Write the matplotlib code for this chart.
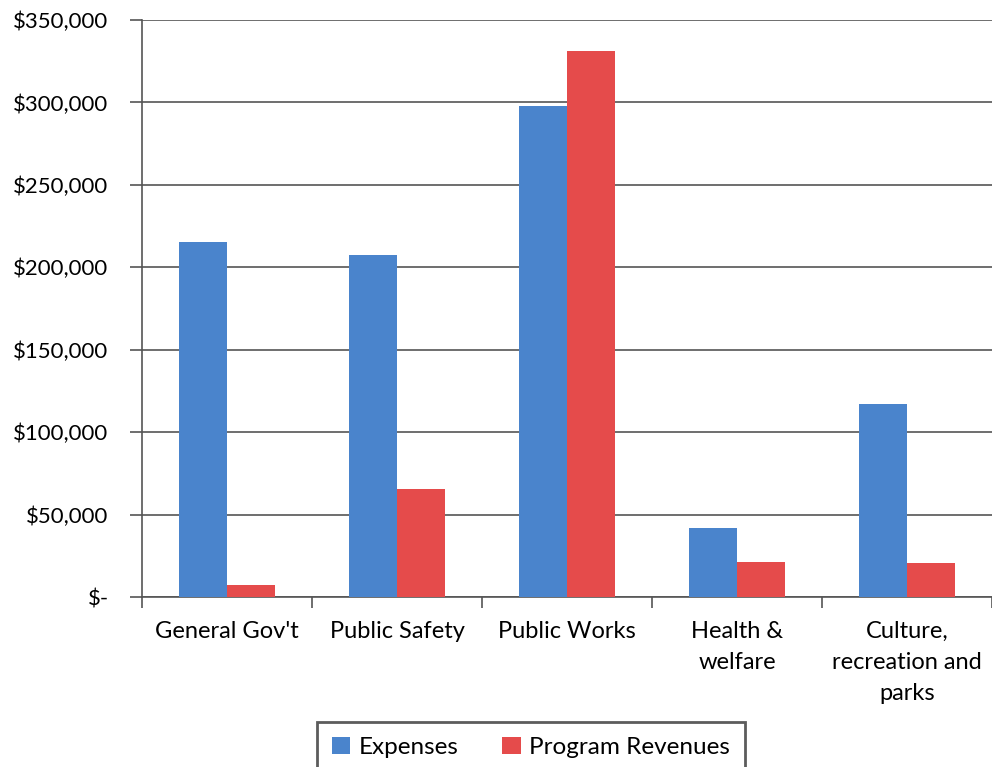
import numpy as np
import matplotlib.pyplot as plt
from matplotlib.ticker import FuncFormatter

# Data
categories = ["General Gov't", "Public Safety", "Public Works",
              "Health &\nwelfare", "Culture,\nrecreation and\nparks"]
expenses = [215500, 207500, 297800, 42000, 116900]
revenues = [7300, 65300, 331400, 21000, 20800]
yticks = [0, 50000, 100000, 150000, 200000, 250000, 300000, 350000]

plt.rcParams['font.family'] = ['Lato', 'DejaVu Sans']

fig = plt.figure(figsize=(9.92, 7.67), dpi=100)
ax = fig.add_axes([142/992, 1-597/767, 1-142/992, (597-20)/767])

x = np.arange(len(categories))
w = 0.283
ax.bar(x - w/2, expenses, w, color='#4A84CC', label='Expenses', zorder=3)
ax.bar(x + w/2, revenues, w, color='#E54B4B', label='Program Revenues', zorder=3)

ax.set_xlim(-0.5, len(categories) - 0.5)
ax.set_ylim(0, 350000)
ax.set_yticks(yticks)
ax.yaxis.set_major_formatter(FuncFormatter(lambda v, p: '$-' if v == 0 else '${:,.0f}'.format(v)))
ax.grid(axis='y', color='#555555', linewidth=1.2, zorder=0)

ax.set_xticks(x)
ax.set_xticklabels(categories, linespacing=1.6, va='top')
ax.set_xticks(np.arange(len(categories) + 1) - 0.5, minor=True)
ax.tick_params(axis='x', which='major', length=0, pad=17, labelsize=17)
ax.tick_params(axis='x', which='minor', length=8, color='#555555', width=1.2)
ax.tick_params(axis='y', length=9, color='#555555', width=1.2, pad=15, labelsize=16)

for s in ['top', 'right']:
    ax.spines[s].set_visible(False)
ax.spines['left'].set_color('#555555')
ax.spines['left'].set_linewidth(1.2)
ax.spines['bottom'].set_color('#555555')
ax.spines['bottom'].set_linewidth(1.2)

leg = fig.legend(loc='upper center', bbox_to_anchor=(531/992, 1-722/767), ncol=2,
                 fontsize=17.5, frameon=True, fancybox=False, handlelength=0.75,
                 handleheight=0.75, handletextpad=0.35, columnspacing=1.8,
                 borderpad=0.6, borderaxespad=0)
leg.get_frame().set_edgecolor('#333333')
leg.get_frame().set_linewidth(2)

fig.savefig('out.png', dpi=100)
